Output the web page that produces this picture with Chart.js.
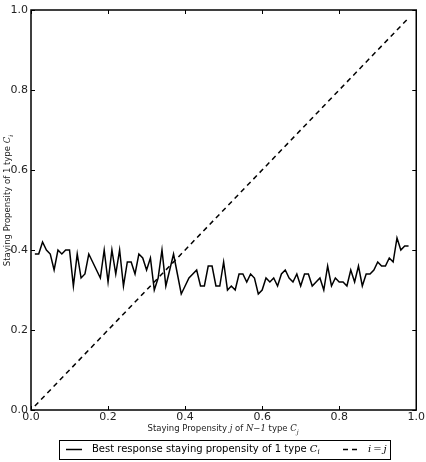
<!DOCTYPE html>
<html>
<head>
<meta charset="utf-8">
<script src="https://cdn.jsdelivr.net/npm/chart.js@4.4.0/dist/chart.umd.min.js"></script>
<style>
  html, body { margin: 0; padding: 0; background: #fff; }
  #wrap { width: 426px; height: 462px; position: relative; }
</style>
</head>
<body>
<div id="wrap"><canvas id="myChart" width="426" height="462"></canvas></div>
<script>
// best response of one type C_i (x = 0.01 .. 0.98)
var bestResp = [
  0.39, 0.39, 0.42, 0.40, 0.39, 0.35, 0.40, 0.39, 0.40, 0.40,
  0.31, 0.39, 0.33, 0.34, 0.39, 0.37, 0.35, 0.33, 0.40, 0.32,
  0.40, 0.34, 0.40, 0.31, 0.37, 0.37, 0.34, 0.39, 0.38, 0.35,
  0.38, 0.30, 0.33, 0.40, 0.31, 0.35, 0.39, 0.34, 0.29, 0.31,
  0.33, 0.34, 0.35, 0.31, 0.31, 0.36, 0.36, 0.31, 0.31, 0.37,
  0.30, 0.31, 0.30, 0.34, 0.34, 0.32, 0.34, 0.33, 0.29, 0.30,
  0.33, 0.32, 0.33, 0.31, 0.34, 0.35, 0.33, 0.32, 0.34, 0.31,
  0.34, 0.34, 0.31, 0.32, 0.33, 0.30, 0.36, 0.31, 0.33, 0.32,
  0.32, 0.31, 0.35, 0.32, 0.36, 0.31, 0.34, 0.34, 0.35, 0.37,
  0.36, 0.36, 0.38, 0.37, 0.43, 0.40, 0.41, 0.41
];
var propX = bestResp.map(function (v, i) { return (i + 1) / 100; });

// the i = j diagonal
var diagX = [0.01, 0.98];
var diagY = [0.01, 0.98];

var tickVals = [0, 0.2, 0.4, 0.6, 0.8, 1.0];

var font = '"DejaVu Sans", sans-serif';
var serif = '"DejaVu Serif", serif';

var extras = {
  id: 'extras',
  afterDraw: function (chart) {
    var c = chart.ctx, a = chart.chartArea;
    var xs = chart.scales.x, ys = chart.scales.y;
    c.save();
    // frame
    c.strokeStyle = '#000';
    c.lineWidth = 1.5;
    c.strokeRect(a.left, a.top, a.right - a.left, a.bottom - a.top);
    // inward ticks on all sides
    c.lineWidth = 1;
    tickVals.forEach(function (t) {
      var px = Math.round(xs.getPixelForValue(t)) + 0.5;
      c.beginPath();
      c.moveTo(px, a.bottom); c.lineTo(px, a.bottom - 4);
      c.moveTo(px, a.top); c.lineTo(px, a.top + 4);
      var py = Math.round(ys.getPixelForValue(t)) + 0.5;
      c.moveTo(a.left, py); c.lineTo(a.left + 4, py);
      c.moveTo(a.right, py); c.lineTo(a.right - 4, py);
      c.stroke();
    });

    c.fillStyle = '#222';
    c.textBaseline = 'middle';
    c.textAlign = 'left';
    // x axis title
    var parts = [
      ['Staying Propensity ', '8.5px ' + font],
      ['j', 'italic 8.5px ' + serif],
      [' of ', '8.5px ' + font],
      ['N\u22121', 'italic 8.5px ' + serif],
      [' type ', '8.5px ' + font],
      ['C', 'italic 8.5px ' + serif]
    ];
    var w = 0;
    parts.forEach(function (p) { c.font = p[1]; w += c.measureText(p[0]).width; });
    w += 3;
    var x0 = (a.left + a.right) / 2 - w / 2, ty = 429;
    parts.forEach(function (p) { c.font = p[1]; c.fillText(p[0], x0, ty); x0 += c.measureText(p[0]).width; });
    c.font = 'italic 6px ' + serif;
    c.fillText('j', x0, ty + 3);

    // y axis title
    c.save();
    c.translate(8, 200);
    c.rotate(-Math.PI / 2);
    var yp = [
      ['Staying Propensity of 1 type ', '8.5px ' + font],
      ['C', 'italic 8.5px ' + serif]
    ];
    w = 0;
    yp.forEach(function (p) { c.font = p[1]; w += c.measureText(p[0]).width; });
    w += 3;
    x0 = -w / 2;
    yp.forEach(function (p) { c.font = p[1]; c.fillText(p[0], x0, 0); x0 += c.measureText(p[0]).width; });
    c.font = 'italic 6px ' + serif;
    c.fillText('i', x0, 3);
    c.restore();

    // legend box
    c.strokeStyle = '#000';
    c.lineWidth = 1;
    c.strokeRect(59.5, 440.5, 331, 19);
    var ly = 449.5;
    c.lineWidth = 1.5;
    c.beginPath(); c.moveTo(66, ly); c.lineTo(82, ly); c.stroke();
    c.setLineDash([5, 4]);
    c.beginPath(); c.moveTo(343, ly); c.lineTo(357, ly); c.stroke();
    c.setLineDash([]);
    c.fillStyle = '#000';
    var legTxt = 'Best response staying propensity of 1 type ';
    c.font = '10px ' + font;
    c.fillText(legTxt, 92, ly);
    var lx = 92 + c.measureText(legTxt).width;
    c.font = 'italic 10px ' + serif;
    c.fillText('C', lx, ly);
    lx += c.measureText('C').width;
    c.font = 'italic 7px ' + serif;
    c.fillText('i', lx, ly + 3);
    c.font = 'italic 10px ' + serif;
    c.fillText('i\u2009=\u2009j', 368, ly);
    c.restore();
  }
};

var ctx = document.getElementById('myChart').getContext('2d');
var myChart = new Chart(ctx, {
  type: 'line',
  data: {
    datasets: [
      {
        label: 'Best response staying propensity of 1 type Ci',
        data: propX.map(function (x, i) { return { x: x, y: bestResp[i] }; }),
        borderColor: '#000',
        borderWidth: 1.5,
        pointRadius: 0,
        tension: 0,
        fill: false
      },
      {
        label: 'i=j',
        data: diagX.map(function (x, i) { return { x: x, y: diagY[i] }; }),
        borderColor: '#000',
        borderWidth: 1.5,
        borderDash: [5, 4],
        pointRadius: 0,
        fill: false
      }
    ]
  },
  options: {
    responsive: false,
    animation: false,
    layout: { padding: { left: 0, top: 10, right: 8, bottom: 0 } },
    plugins: { legend: { display: false }, tooltip: { enabled: false } },
    scales: {
      x: {
        type: 'linear', min: 0, max: 1,
        afterFit: function (s) { s.height = 52; },
        afterBuildTicks: function (s) { s.ticks = tickVals.map(function (v) { return { value: v }; }); },
        grid: { display: false, drawTicks: false },
        border: { display: false },
        ticks: { color: '#222', font: { family: font, size: 11 }, padding: 1,
          callback: function (v) { return v.toFixed(1); } }
      },
      y: {
        min: 0, max: 1,
        afterFit: function (s) { s.width = 31; },
        afterBuildTicks: function (s) { s.ticks = tickVals.map(function (v) { return { value: v }; }); },
        grid: { display: false, drawTicks: false },
        border: { display: false },
        ticks: { color: '#222', font: { family: font, size: 11 }, padding: 3,
          callback: function (v) { return v.toFixed(1); } }
      }
    }
  },
  plugins: [extras]
});
</script>
</body>
</html>
